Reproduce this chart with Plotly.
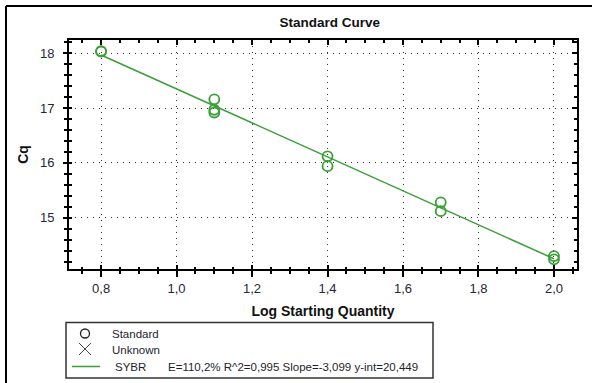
import plotly.graph_objects as go

# Standard curve data: log starting quantity vs. quantification cycle
log_qty = [0.8, 0.8, 1.1, 1.1, 1.1, 1.4, 1.4, 1.7, 1.7, 2.0, 2.0]
cq = [18.04, 18.03, 17.16, 16.97, 16.92, 16.12, 15.94, 15.28, 15.12, 14.30, 14.24]

# Regression parameters reported for the SYBR fit
slope = -3.099
intercept = 20.449
efficiency = "110,2%"
r_squared = "0,995"

x_ticks = [0.8, 1.0, 1.2, 1.4, 1.6, 1.8, 2.0]
y_ticks = [15, 16, 17, 18]

GREEN = "#3c9e37"
TXT = "#262638"
FONT = "Arial, Liberation Sans, sans-serif"

W, H = 592, 383
L, R, T, B = 69, 577, 40, 269  # plot area in pixels


def px(p):
    return (p - L) / (R - L)


def py(p):
    return (B - p) / (B - T)


xr = [0.715, 2.061]
yr = [14.064, 18.243]

fit_x = [min(log_qty), max(log_qty)]
fit_y = [intercept + slope * v for v in fit_x]

fig = go.Figure()
fig.add_trace(go.Scatter(
    x=fit_x, y=fit_y, mode="lines",
    line=dict(color=GREEN, width=1.5), showlegend=False, hoverinfo="skip"))
fig.add_trace(go.Scatter(
    x=log_qty, y=cq, mode="markers",
    marker=dict(symbol="circle-open", size=10, color=GREEN,
                line=dict(color=GREEN, width=1.8)),
    showlegend=False))
# empty traces so the tick-only overlay axes get drawn
fig.add_trace(go.Scatter(x=[], y=[], xaxis="x2", yaxis="y2", showlegend=False))
fig.add_trace(go.Scatter(x=[], y=[], xaxis="x3", yaxis="y3", showlegend=False))

tickfont = dict(family=FONT, size=13, color=TXT)

fig.update_layout(
    width=W, height=H,
    margin=dict(l=L, r=W - R, t=T, b=H - B),
    paper_bgcolor="white", plot_bgcolor="white",
    separators=",.",
    showlegend=False,
    title=dict(text="<b>Standard Curve</b>", x=304 / W, xref="paper",
               xanchor="center", y=1 - 22 / H, yref="container", yanchor="middle",
               font=dict(family=FONT, size=13.5, color="#111")),
    xaxis=dict(
        range=xr, tickvals=x_ticks, tickformat=".1f",
        ticks="outside", ticklen=6, tickwidth=1.5, tickcolor="black",
        minor=dict(dtick=0.05, tick0=0, ticks="outside", ticklen=3, tickcolor="black",
                   showgrid=False),
        showline=True, linecolor="black", linewidth=2, mirror=True,
        showgrid=True, gridcolor="#333", gridwidth=1, griddash="1px,5px",
        zeroline=False, tickfont=tickfont,
        title=dict(text="<b>Log Starting Quantity</b>", standoff=12,
                   font=dict(family=FONT, size=14, color="#111"))),
    yaxis=dict(
        range=yr, tickvals=y_ticks,
        ticks="outside", ticklen=4, tickwidth=1.5, tickcolor="black",
        minor=dict(dtick=0.2, tick0=0, ticks="outside", ticklen=3, tickcolor="black",
                   showgrid=False),
        showline=True, linecolor="black", linewidth=2, mirror=True,
        showgrid=True, gridcolor="#333", gridwidth=1, griddash="1px,5px",
        zeroline=False, tickfont=tickfont, ticklabelstandoff=6,
        title=dict(text="<b>Cq</b>", standoff=8,
                   font=dict(family=FONT, size=14, color="#111"))),
    # inward ticks on the bottom/left so the ticks cross the axis lines
    xaxis2=dict(overlaying="x", side="bottom", range=xr, tickvals=x_ticks,
                ticks="inside", ticklen=4, tickwidth=1.5, tickcolor="black",
                minor=dict(dtick=0.05, tick0=0, ticks="inside", ticklen=2, tickcolor="black"),
                showticklabels=False, showgrid=False, showline=False, zeroline=False),
    yaxis2=dict(overlaying="y", side="left", range=yr, tickvals=y_ticks,
                ticks="inside", ticklen=3, tickwidth=1.5, tickcolor="black",
                minor=dict(dtick=0.2, tick0=0, ticks="inside", ticklen=3, tickcolor="black"),
                showticklabels=False, showgrid=False, showline=False, zeroline=False),
    # inward ticks on the top/right edges
    xaxis3=dict(overlaying="x", side="top", range=xr, tickvals=x_ticks,
                ticks="inside", ticklen=5, tickwidth=1.5, tickcolor="black",
                minor=dict(dtick=0.05, tick0=0, ticks="inside", ticklen=3, tickcolor="black"),
                showticklabels=False, showgrid=False, showline=False, zeroline=False),
    yaxis3=dict(overlaying="y", side="right", range=yr, tickvals=y_ticks,
                ticks="inside", ticklen=5, tickwidth=1.5, tickcolor="black",
                minor=dict(dtick=0.2, tick0=0, ticks="inside", ticklen=3, tickcolor="black"),
                showticklabels=False, showgrid=False, showline=False, zeroline=False),
)

shapes = []
# outer frame (top and left edges)
shapes.append(dict(type="line", xref="paper", yref="paper",
                   x0=px(6), x1=px(W + 5), y0=py(6), y1=py(6),
                   line=dict(color="black", width=2)))
shapes.append(dict(type="line", xref="paper", yref="paper",
                   x0=px(6), x1=px(6), y0=py(6), y1=py(H + 5),
                   line=dict(color="black", width=2)))
# legend box
shapes.append(dict(type="rect", xref="paper", yref="paper",
                   x0=px(66), x1=px(433), y0=py(322.5), y1=py(378),
                   line=dict(color="#333", width=1.5), fillcolor="rgba(0,0,0,0)"))
# legend key: standard (open circle)
shapes.append(dict(type="circle", xref="paper", yref="paper",
                   x0=px(80.5), x1=px(89.5), y0=py(329), y1=py(338),
                   line=dict(color="#222", width=1.3)))
# legend key: unknown (cross)
shapes.append(dict(type="line", xref="paper", yref="paper",
                   x0=px(79), x1=px(91), y0=py(343), y1=py(355),
                   line=dict(color="#444", width=1)))
shapes.append(dict(type="line", xref="paper", yref="paper",
                   x0=px(79), x1=px(91), y0=py(355), y1=py(343),
                   line=dict(color="#444", width=1)))
# legend key: fit line
shapes.append(dict(type="line", xref="paper", yref="paper",
                   x0=px(72), x1=px(100), y0=py(366.5), y1=py(366.5),
                   line=dict(color=GREEN, width=1.5)))
fig.update_layout(shapes=shapes)

legfont = dict(family=FONT, size=11.5, color="#1e1e2a")
fit_text = (f"E={efficiency} R^2={r_squared} "
            f"Slope={slope:.3f}".replace(".", ",") +
            f" y-int={intercept:.3f}".replace(".", ","))
annots = [
    ("Standard", 110, 333.5),
    ("Unknown", 110, 349.5),
    ("SYBR", 113, 366.5),
    (fit_text, 166, 366.5),
]
for text, xp, yp in annots:
    fig.add_annotation(text=text, xref="paper", yref="paper", x=px(xp), y=py(yp),
                       xanchor="left", yanchor="middle", showarrow=False,
                       font=legfont)

fig.write_html("out.html")
